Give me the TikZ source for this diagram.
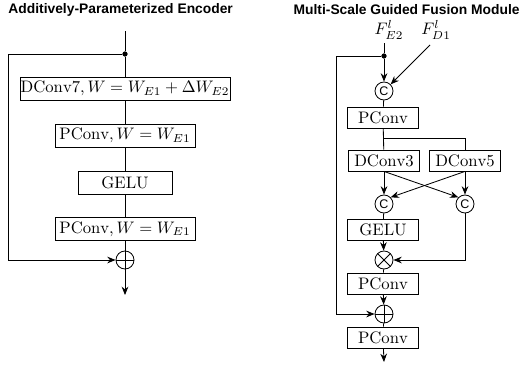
\documentclass[tikz,border=0pt]{standalone}
\usepackage{fontspec}
\newfontfamily\titlefont{Liberation Sans}
\usetikzlibrary{arrows.meta}
\begin{document}
\begin{tikzpicture}[x=0.6pt,y=-0.6pt,
  line width=0.5pt,
  box/.style={draw,rectangle,inner sep=0pt,minimum height=13.8pt,font=\fontsize{10}{12}\selectfont},
  rbox/.style={draw,rectangle,inner sep=0pt,minimum height=12.6pt,minimum width=42.6pt,font=\fontsize{10}{12}\selectfont},
  arr/.style={-{Stealth[length=5pt,width=4pt]}},
  ttl/.style={font=\titlefont\bfseries\fontsize{8.3}{10}\selectfont,inner sep=0pt},
  dotc/.style={circle,fill,draw,inner sep=0pt,minimum size=2.6pt},
  cat/.style={draw,circle,inner sep=0pt,minimum size=10.8pt,font=\titlefont\fontsize{7.5}{7.5}\selectfont},
  plusc/.style={draw,circle,inner sep=0pt,minimum size=10.8pt,
    path picture={\draw (path picture bounding box.north) -- (path picture bounding box.south)
      (path picture bounding box.west) -- (path picture bounding box.east);}},
  timesc/.style={draw,circle,inner sep=0pt,minimum size=10.8pt,
    path picture={\draw (path picture bounding box.north west) -- (path picture bounding box.south east)
      (path picture bounding box.south west) -- (path picture bounding box.north east);}}
]
\useasboundingbox (0,0) rectangle (524,367);
% ---------- left panel ----------
\node[ttl,anchor=west] (t1) at (8,10) {Additively-Parameterized Encoder};
\coordinate (top1) at (125,31);
\node[dotc] (d1) at (125,54) {};
\node[box,minimum width=126pt] (b1) at (125,88.5) {$\mathrm{DConv7}, W = W_{E1} + \Delta W_{E2}$};
\node[box,minimum width=84pt] (b2) at (125,135.5) {$\mathrm{PConv}, W = W_{E1}$};
\node[box,minimum width=56.4pt] (b3) at (125,182.5) {$\mathrm{GELU}$};
\node[box,minimum width=84pt] (b4) at (125,229) {$\mathrm{PConv}, W = W_{E1}$};
\node[plusc] (pl1) at (125,260) {};
\coordinate (out1) at (125,295);
\coordinate (l1) at (8,260);
\draw (top1) -- (d1) -- (b1);
\draw (b1) -- (b2);
\draw (b2) -- (b3);
\draw (b3) -- (b4);
\draw (b4) -- (pl1);
\draw[arr] (pl1) -- (out1);
\draw[arr] (d1) -| (l1) -- (pl1);
% ---------- right panel ----------
\node[ttl,anchor=east] (t2) at (520,10) {Multi-Scale Guided Fusion Module};
\node[font=\fontsize{10}{12}\selectfont,inner sep=0pt] (fE) at (389,30) {$F_{E2}^{l}$};
\node[font=\fontsize{10}{12}\selectfont,inner sep=0pt] (fD) at (436,30) {$F_{D1}^{l}$};
\coordinate (top2) at (384,43);
\coordinate (fDt) at (430,45);
\node[dotc] (d2) at (384,56) {};
\node[cat] (c1) at (384,91) {C};
\node[rbox] (p1) at (383,117.5) {$\mathrm{PConv}$};
\coordinate (br) at (384,138);
\node[rbox] (dc3) at (384,160.5) {$\mathrm{DConv3}$};
\node[rbox] (dc5) at (465,160.5) {$\mathrm{DConv5}$};
\node[cat] (c2) at (384,204) {C};
\node[cat] (c3) at (465,204) {C};
\node[rbox] (g) at (383,230) {$\mathrm{GELU}$};
\node[timesc] (ot) at (384,260) {};
\node[rbox] (p2) at (383,283.5) {$\mathrm{PConv}$};
\node[plusc] (op) at (384,314) {};
\node[rbox] (p3) at (383,337.5) {$\mathrm{PConv}$};
\coordinate (out2) at (384,362);
\coordinate (l2) at (336,314);
\draw (top2) -- (d2);
\draw[arr] (d2) -- (c1);
\draw[arr] (fDt) -- (c1.north east);
\draw (c1) -- (p1);
\draw (p1) -- (dc3);
\draw (br) -| (dc5);
\draw[arr] (dc3) -- (c2);
\draw[arr] (dc5) -- (c3);
\draw[arr] (dc3.south) -- (c3.north west);
\draw[arr] (dc5.south) -- (c2.north east);
\draw (c2) -- (g);
\draw[arr] (g) -- (ot);
\draw[arr] (c3) |- (ot);
\draw (ot) -- (p2);
\draw[arr] (p2) -- (op);
\draw (op) -- (p3);
\draw[arr] (p3) -- (out2);
\draw[arr] (d2) -| (l2) -- (op);
\end{tikzpicture}
\end{document}
